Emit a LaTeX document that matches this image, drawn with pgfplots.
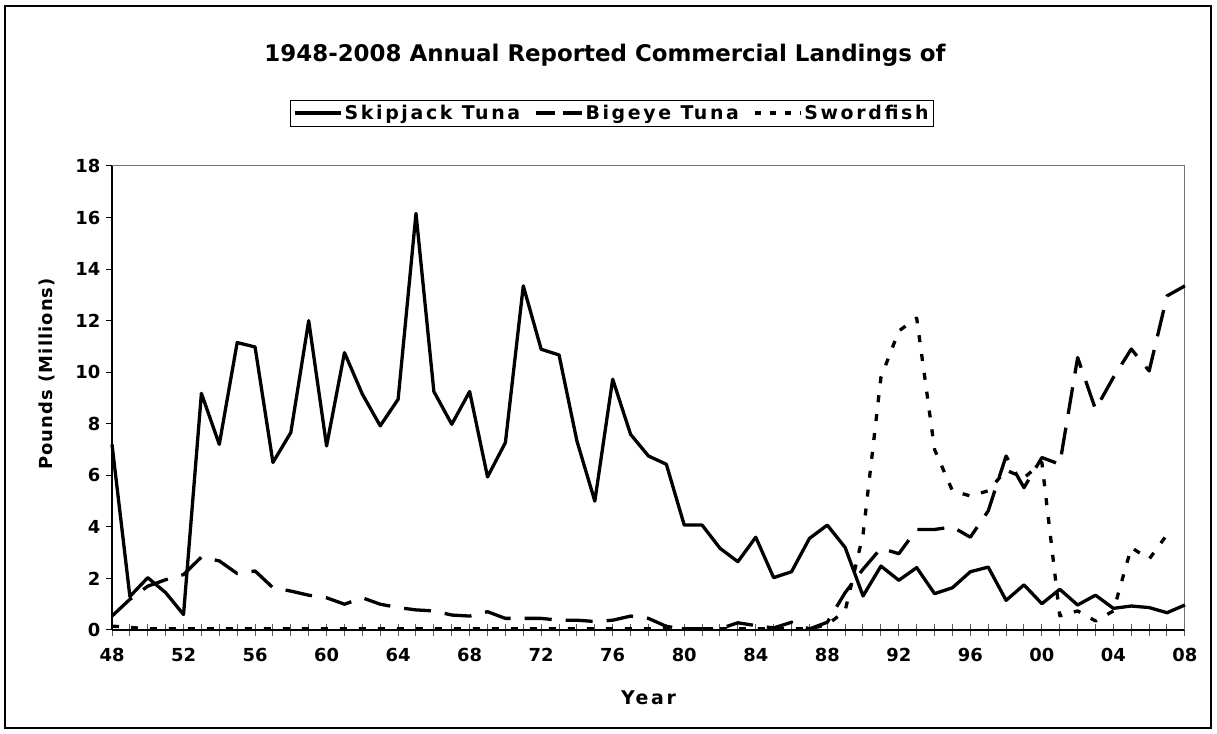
\documentclass[border=0pt]{standalone}
\usepackage{fontspec}
\setmainfont{DejaVu Sans}
\newfontfamily\spaced[LetterSpace=14]{DejaVu Sans}
\newfontfamily\yspaced[LetterSpace=6]{DejaVu Sans}
\usepackage{pgfplots}
\usepackage{pgfplotstable}
\pgfplotsset{compat=1.18}

\pgfplotstableread{
year skip
1948 7.2
1949 1.3
1950 2.03
1951 1.45
1952 0.6
1953 9.18
1954 7.2
1955 11.15
1956 10.98
1957 6.5
1958 7.66
1959 12.0
1960 7.14
1961 10.76
1962 9.15
1963 7.92
1964 8.95
1965 16.16
1966 9.25
1967 7.98
1968 9.25
1969 5.94
1970 7.27
1971 13.35
1972 10.89
1973 10.67
1974 7.33
1975 5.0
1976 9.73
1977 7.59
1978 6.75
1979 6.43
1980 4.07
1981 4.07
1982 3.17
1983 2.65
1984 3.6
1985 2.03
1986 2.26
1987 3.55
1988 4.07
1989 3.2
1990 1.32
1991 2.48
1992 1.93
1993 2.42
1994 1.41
1995 1.64
1996 2.26
1997 2.44
1998 1.15
1999 1.75
2000 1.02
2001 1.58
2002 0.97
2003 1.35
2004 0.84
2005 0.93
2006 0.87
2007 0.67
2008 0.97
}\skipjack

\pgfplotstableread{
year big
1948 0.54
1949 1.19
1950 1.7
1951 1.95
1952 2.15
1953 2.83
1954 2.68
1955 2.19
1956 2.29
1957 1.64
1958 1.51
1959 1.35
1960 1.25
1961 1.0
1962 1.25
1963 1.0
1964 0.87
1965 0.78
1966 0.74
1967 0.58
1968 0.54
1969 0.71
1970 0.45
1971 0.45
1972 0.45
1973 0.38
1974 0.38
1975 0.33
1976 0.38
1977 0.54
1978 0.45
1979 0.14
1980 0.04
1981 0.05
1982 0.05
1983 0.28
1984 0.17
1985 0.08
1986 0.3
1987 0.04
1988 0.3
1989 1.45
1990 2.36
1991 3.17
1992 2.96
1993 3.9
1994 3.9
1995 4.0
1996 3.6
1997 4.62
1998 6.75
1999 5.52
2000 6.69
2001 6.43
2002 10.57
2003 8.56
2004 9.8
2005 10.9
2006 10.05
2007 12.96
2008 13.35
}\bigeye

\pgfplotstableread{
year sword
1948 0.15
1949 0.1
1950 0.05
1951 0.05
1952 0.05
1953 0.05
1954 0.05
1955 0.05
1956 0.05
1957 0.05
1958 0.05
1959 0.05
1960 0.05
1961 0.05
1962 0.05
1963 0.05
1964 0.05
1965 0.05
1966 0.05
1967 0.05
1968 0.05
1969 0.05
1970 0.05
1971 0.05
1972 0.05
1973 0.05
1974 0.05
1975 0.05
1976 0.05
1977 0.05
1978 0.05
1979 0.05
1980 0.05
1981 0.05
1982 0.05
1983 0.05
1984 0.05
1985 0.05
1986 0.05
1987 0.05
1988 0.2
1989 0.75
1990 3.7
1991 9.8
1992 11.6
1993 12.1
1994 7.0
1995 5.4
1996 5.2
1997 5.4
1998 6.2
1999 5.9
2000 6.5
2001 0.55
2002 0.74
2003 0.35
2004 0.74
2005 3.2
2006 2.75
2007 3.7
}\sword

\begin{document}
\begin{tikzpicture}[x=1bp,y=1bp]
\useasboundingbox (0bp,0bp) rectangle (1217bp,734bp);
\fill[white] (0bp,0bp) rectangle (1217bp,734bp);
\draw[line width=1.6bp] (5bp,6bp) rectangle (1211bp,728bp);
\node[font=\fontsize{23}{27}\selectfont\bfseries] at (605bp,679bp) {1948-2008 Annual Reported Commercial Landings of};
\begin{axis}[
  at={(112bp,104bp)}, anchor=south west,
  scale only axis, width=1073bp, height=464bp,
  xmin=1948, xmax=2008, ymin=0, ymax=18,
  clip=false,
  axis x line*=bottom, axis y line*=left,
  axis line style={line width=1.2bp, black, -},
  xtick={1948,1952,...,2008},
  xticklabels={48,52,56,60,64,68,72,76,80,84,88,92,96,00,04,08},
  minor xtick={1948,1949,...,2008},
  xtick align=center,
  xtick style={black!65, line width=1bp, /pgfplots/major tick length=12bp, /pgfplots/minor tick length=12bp},
  ytick={0,2,...,18},
  ytick align=outside,
  ytick style={black, line width=1bp, /pgfplots/major tick length=6bp},
  tick label style={font=\fontsize{18}{20}\selectfont\bfseries},
  /pgf/number format/assume math mode=true,
  xticklabel style={yshift=-13bp},
  yticklabel style={xshift=-4bp},
  xlabel={Year}, ylabel={Pounds (Millions)},
  xlabel style={font=\fontsize{19}{21}\spaced\bfseries, at={(axis description cs:0.5,-0.145)}, anchor=center},
  ylabel style={font=\fontsize{18}{20}\yspaced\bfseries, at={(axis description cs:-0.061,0.552)}, anchor=center},
  legend columns=3,
  legend style={at={(0.466,1.114)}, anchor=center, draw=black, line width=1bp,
    font=\fontsize{19}{22}\spaced\bfseries, inner sep=3bp,
    /tikz/every odd column/.append style={column sep=0bp},
    /tikz/every even column/.append style={column sep=12bp}},
  every axis plot/.append style={line width=3.3bp, black, line join=round},
]
\draw[black!55, line width=1bp] (rel axis cs:0,1) -- (rel axis cs:1,1) -- (rel axis cs:1,0);
\addplot[solid, legend image code/.code={\draw[line width=3.3bp] (0bp,0bp) -- (46bp,0bp);}] table[x=year, y=skip] {\skipjack};
\addlegendentry{Skipjack Tuna}
\addplot[dash pattern=on 27bp off 14bp, legend image code/.code={\draw[line width=3.3bp, dash pattern=on 19bp off 8bp] (0bp,0bp) -- (46bp,0bp);}] table[x=year, y=big] {\bigeye};
\addlegendentry{Bigeye Tuna}
\addplot[dash pattern=on 7bp off 12bp, legend image code/.code={\draw[line width=3.3bp, dash pattern=on 6bp off 9bp] (0bp,0bp) -- (46bp,0bp);}] table[x=year, y=sword] {\sword};
\addlegendentry{Swordfish}
\end{axis}
\end{tikzpicture}
\end{document}
